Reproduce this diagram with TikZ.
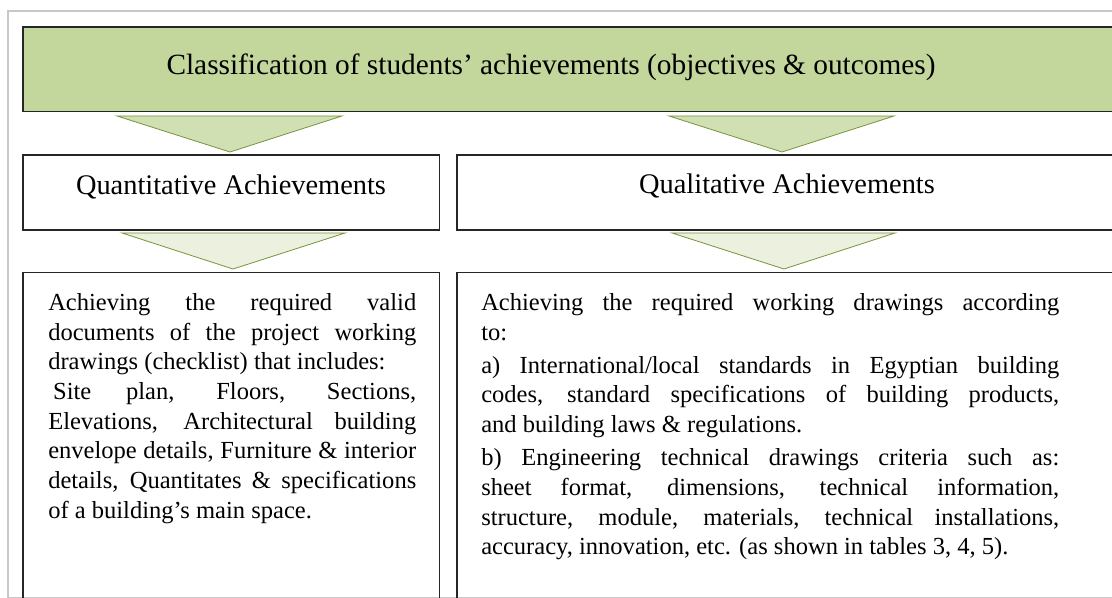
\documentclass[tikz,border=0pt]{standalone}
\usepackage{fontspec}
\setmainfont{Liberation Serif}
\usepackage{xcolor}
\usetikzlibrary{positioning}

\definecolor{titlegreen}{HTML}{C3D69B}
\definecolor{arrowgreen}{HTML}{D1E0B3}
\definecolor{palegreen}{HTML}{EBF1DE}
\definecolor{edgegreen}{HTML}{77933C}
\definecolor{framegray}{HTML}{C8C8C8}

\begin{document}
\begin{tikzpicture}[x=0.75pt, y=-0.75pt,
  box/.style={draw=black!85, line width=1.3pt},
  tri/.style={draw=edgegreen, line width=0.6pt},
  head/.style={inner sep=0pt, anchor=base, font=\fontsize{22}{26}\selectfont},
  sub/.style={inner sep=0pt, anchor=base, font=\fontsize{21.3}{25}\selectfont},
  body/.style={inner sep=0pt, anchor=north west, align=justify,
    font=\fontsize{18.4}{22.3}\selectfont},
]
\useasboundingbox (0,0) rectangle (1112,598);
\clip (0,0) rectangle (1112,598);

% frame
\draw[framegray, line width=0.8pt] (8,11) rectangle (1130,597.5);

% title
\draw[box, fill=titlegreen] (23,27) rectangle (1130,111.5);
\node[head] (title) at (551,75) {Classification of students’ achievements (objectives \& outcomes)};

% first arrows
\draw[tri, fill=arrowgreen] (117,116) -- (342,116) -- (230,152) -- cycle;
\draw[tri, fill=arrowgreen] (669,116) -- (894,116) -- (782,152) -- cycle;

% quantitative
\draw[box] (23,155) rectangle (439.5,230);
\node[sub] (quant) at (231,195) {Quantitative Achievements};

% qualitative
\draw[box] (457,155) rectangle (1130,230);
\node[sub] (qual) at (787,194) {Qualitative Achievements};

% second arrows
\draw[tri, fill=palegreen] (122,233) -- (345,233) -- (233,269) -- cycle;
\draw[tri, fill=palegreen] (672,233) -- (895,233) -- (784,269) -- cycle;

% lists
\draw[box] (23,272.5) rectangle (439.5,620);
\draw[box] (457,272.5) rectangle (1130,620);

\node[body, text width=276pt] (quantlist) at (48,293) {%
\hyphenpenalty=10000
Achieving the required valid\linebreak
documents of the project working\linebreak
drawings (checklist) that includes:\par
\hspace*{0.2em}Site plan, Floors, Sections,\linebreak
Elevations, Architectural building\linebreak
envelope details, Furniture \& interior\linebreak
details, Quantitates \& specifications\linebreak
of a building’s main space.\par};

\node[body, text width=433.5pt] (quallist) at (481,293) {%
\hyphenpenalty=10000 \setlength{\parskip}{2.5pt}%
Achieving the required working drawings according\linebreak
to:\par
a)~International/local standards in Egyptian building\linebreak
codes, standard specifications of building products,\linebreak
and building laws \& regulations.\par
b)~Engineering technical drawings criteria such as:\linebreak
sheet format, dimensions, technical information,\linebreak
structure, module, materials, technical installations,\linebreak
accuracy, innovation, etc. (as shown in tables 3, 4, 5).\par};
\end{tikzpicture}
\end{document}
